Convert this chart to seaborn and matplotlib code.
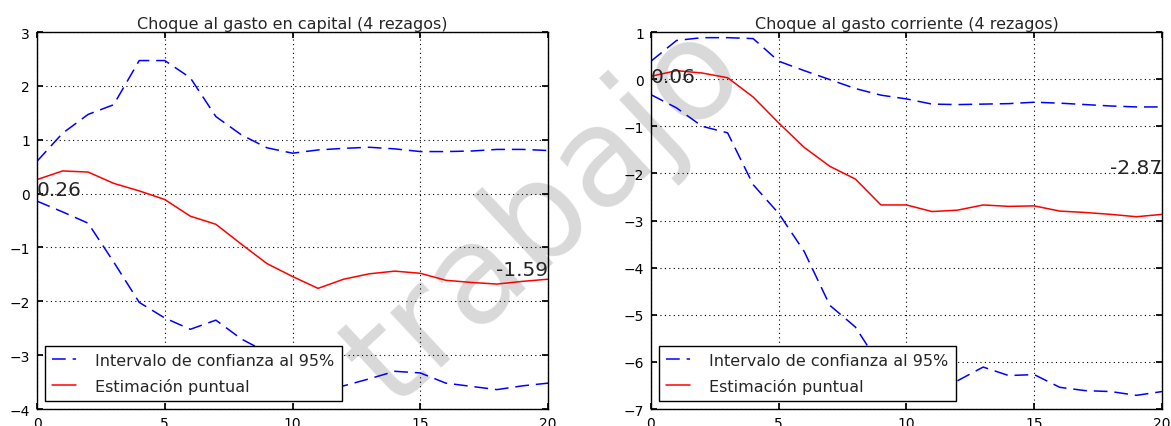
import numpy as np
import pandas as pd
import matplotlib
matplotlib.use("Agg")
import matplotlib.pyplot as plt
import seaborn as sns

# ---------------- data ----------------
lags = list(range(21))

cap_upper = [0.60, 1.12, 1.47, 1.65, 2.47, 2.47, 2.15, 1.43, 1.09, 0.85, 0.75,
             0.81, 0.84, 0.86, 0.83, 0.78, 0.78, 0.79, 0.82, 0.82, 0.80]
cap_point = [0.26, 0.42, 0.40, 0.19, 0.05, -0.11, -0.42, -0.57, -0.94, -1.30, -1.54,
             -1.76, -1.59, -1.49, -1.44, -1.48, -1.61, -1.65, -1.68, -1.63, -1.59]
cap_lower = [-0.14, -0.34, -0.55, -1.27, -2.02, -2.31, -2.52, -2.35, -2.70, -2.95, -3.20,
             -3.50, -3.57, -3.44, -3.30, -3.33, -3.52, -3.58, -3.64, -3.57, -3.52]

cor_upper = [0.38, 0.82, 0.88, 0.88, 0.86, 0.38, 0.18, -0.01, -0.20, -0.34, -0.42,
             -0.53, -0.54, -0.53, -0.52, -0.49, -0.51, -0.54, -0.57, -0.59, -0.59]
cor_point = [0.06, 0.18, 0.13, 0.03, -0.38, -0.93, -1.45, -1.85, -2.12, -2.67, -2.67,
             -2.81, -2.78, -2.67, -2.70, -2.69, -2.80, -2.83, -2.87, -2.92, -2.87]
cor_lower = [-0.33, -0.61, -1.00, -1.14, -2.24, -2.85, -3.66, -4.80, -5.26, -6.10, -6.50,
             -6.60, -6.40, -6.11, -6.29, -6.27, -6.54, -6.61, -6.63, -6.71, -6.63]

titles = ["Choque al gasto en capital (4 rezagos)",
          "Choque al gasto corriente (4 rezagos)"]
ci_label = "Intervalo de confianza al 95%"
pt_label = "Estimación puntual"
ylims = [(-4, 3), (-7, 1)]
watermark = "trabajo"

# ---------------- style ----------------
sns.set_theme(style="ticks")
plt.rcParams.update({
    "font.family": ["DejaVu Sans"],
    "axes.edgecolor": "black",
    "axes.linewidth": 1.0,
    "axes.facecolor": "none",
    "xtick.direction": "in",
    "ytick.direction": "in",
    "xtick.top": True,
    "ytick.right": True,
    "xtick.major.size": 4,
    "ytick.major.size": 4,
    "xtick.color": "black",
    "ytick.color": "black",
    "xtick.labelsize": 10,
    "ytick.labelsize": 10,
    "xtick.major.pad": 5,
    "ytick.major.pad": 5,
    "axes.unicode_minus": True,
})

fig = plt.figure(figsize=(11.71, 4.27), dpi=100)
fig.patch.set_facecolor("white")
ax1 = fig.add_axes([0.0316, 0.0398, 0.4364, 0.8829])
ax2 = fig.add_axes([0.5559, 0.0398, 0.4364, 0.8829])

panels = [
    (ax1, cap_upper, cap_point, cap_lower, ylims[0], titles[0]),
    (ax2, cor_upper, cor_point, cor_lower, ylims[1], titles[1]),
]

dash = (0, (9, 4.5))
for ax, up, pt, lo, yl, title in panels:
    sns.lineplot(x=lags, y=up, ax=ax, color="blue", linestyle=dash, lw=1.1,
                 label=ci_label)
    sns.lineplot(x=lags, y=lo, ax=ax, color="blue", linestyle=dash, lw=1.1,
                 legend=False)
    sns.lineplot(x=lags, y=pt, ax=ax, color="red", lw=1.1, label=pt_label)
    ax.set_xlim(0, 20)
    ax.set_ylim(*yl)
    ax.set_xticks([0, 5, 10, 15, 20])
    ax.set_yticks(range(yl[0], yl[1] + 1))
    ax.grid(True, color="black", linestyle=(0, (1, 3)), linewidth=0.8)
    ax.set_title(title, fontsize=11.5, pad=3)
    for s in ax.spines.values():
        s.set_visible(True)
        s.set_color("black")
    leg = ax.legend(loc="lower left", fontsize=11.5, frameon=True, fancybox=False,
                    edgecolor="black", facecolor="white", framealpha=1.0,
                    handlelength=1.5, handletextpad=1.2, borderaxespad=0.5,
                    borderpad=0.45, labelspacing=0.62)
    leg.get_frame().set_linewidth(1.0)
    leg.set_zorder(10)

# annotations of first / last point estimates
ax1.annotate(f"{cap_point[0]:.2f}", xy=(lags[0], cap_point[0]), ha="left", va="top",
             fontsize=14.5)
ax1.annotate(f"{cap_point[-1]:.2f}", xy=(lags[-1], cap_point[-1]), ha="right",
             va="bottom", fontsize=14.5)
ax2.annotate(f"{cor_point[0]:.2f}", xy=(lags[0], cor_point[0]), ha="left",
             va="center", fontsize=14.5)
ax2.annotate(f"{cor_point[-1]:.2f}", xy=(lags[-1], cor_point[-1]), xytext=(0, 27),
             textcoords="offset points", ha="right", va="bottom", fontsize=14.5)

# watermark
fig.text(0.335, 0.0393, watermark, fontsize=99, color="#d9d9d9", rotation=43,
         rotation_mode="anchor", ha="left", va="baseline", zorder=-1)

fig.savefig("out.png", dpi=100, facecolor="white")
